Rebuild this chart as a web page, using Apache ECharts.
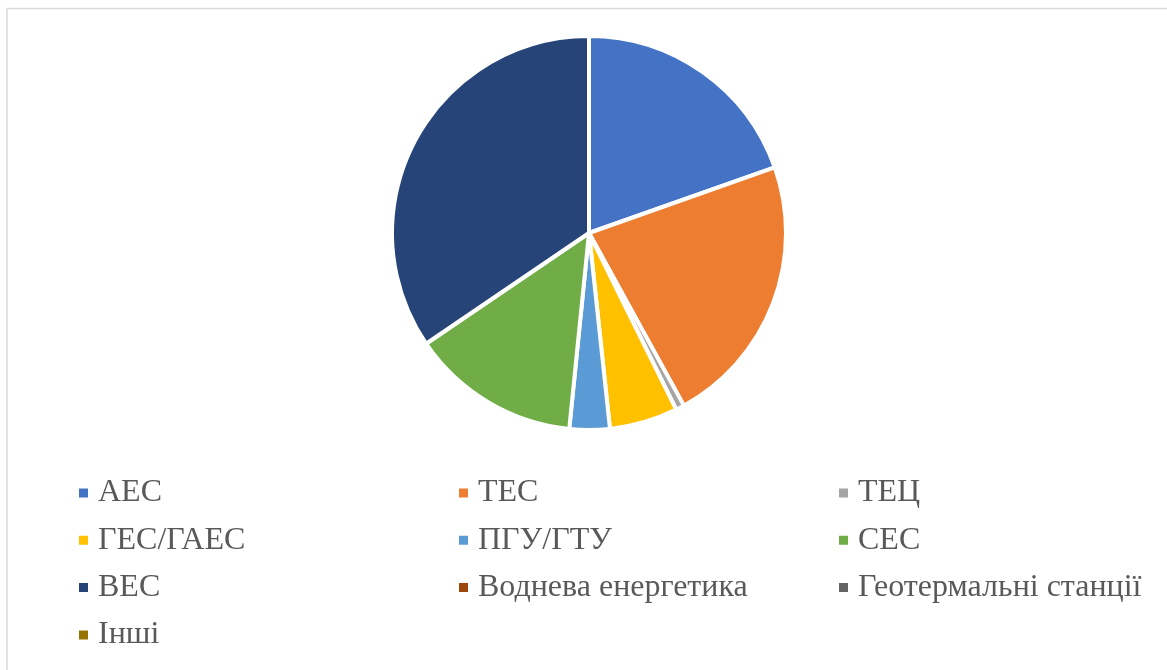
<!DOCTYPE html>
<html>
<head>
<meta charset="utf-8">
<script src="https://cdn.jsdelivr.net/npm/echarts@6/dist/echarts.min.js"></script>
<style>
  html, body { margin: 0; padding: 0; background: #fff; }
  #chart { width: 1167px; height: 670px; }
</style>
</head>
<body>
<div id="chart"></div>
<script>
// shares of generation, %
const categories = ["АЕС", "ТЕС", "ТЕЦ", "ГЕС/ГАЕС", "ПГУ/ГТУ", "СЕС", "ВЕС", "Воднева енергетика", "Геотермальні станції", "Інші"];
const values = [19.6, 22.4, 0.7, 5.6, 3.3, 13.9, 34.5, 0, 0, 0];
const colors = ["#4472C4", "#ED7D31", "#A5A5A5", "#FFC000", "#5B9BD5", "#70AD47", "#264478", "#9E480E", "#636363", "#997300"];

// legend is laid out in 3 columns, row by row
const columns = [[], [], []];
categories.forEach((c, i) => columns[i % 3].push(c));
const colLeft = [72, 452, 832];

const chart = echarts.init(document.getElementById("chart"));

const legendText = {
  fontFamily: "Liberation Serif, Times New Roman, serif",
  fontSize: 32,
  lineHeight: 36,
  color: "#595959",
  padding: [0, 0, 0, 4]
};

const option = {
  animation: false,
  color: colors,
  graphic: [{
    type: "rect",
    shape: { x: 7, y: 8.5, width: 1200, height: 700 },
    style: { fill: "none", stroke: "#d9d9d9", lineWidth: 1.5 },
    silent: true
  }],
  legend: columns.map((col, k) => ({
    orient: "vertical",
    left: colLeft[k],
    top: 470,
    data: col,
    icon: "rect",
    itemWidth: 11,
    itemHeight: 11,
    itemGap: 11.3,
    selectedMode: false,
    textStyle: legendText
  })),
  series: [{
    type: "pie",
    center: [589, 233],
    radius: 197,
    startAngle: 90,
    clockwise: true,
    label: { show: false },
    labelLine: { show: false },
    emphasis: { disabled: true },
    itemStyle: { borderColor: "#fff", borderWidth: 4 },
    data: categories.map((c, i) => ({ name: c, value: values[i] }))
  }]
};

chart.setOption(option);
</script>
</body>
</html>
